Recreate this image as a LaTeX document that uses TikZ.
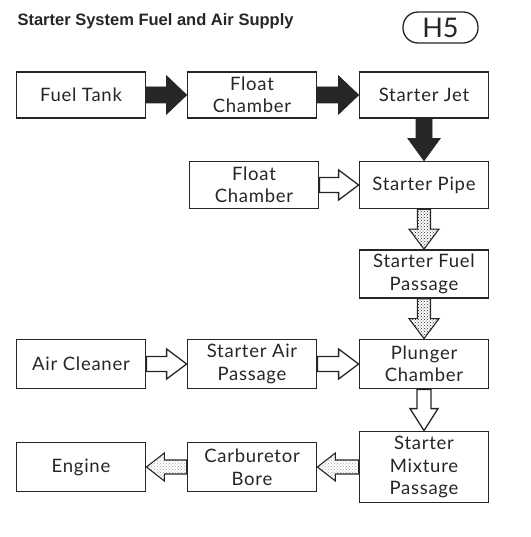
\documentclass[tikz,border=0pt]{standalone}
\usepackage{fontspec}
\setmainfont{Lato}[LetterSpace=4]
\newfontfamily\titlefont{Liberation Sans}
\newfontfamily\hfont{Lato}
\usetikzlibrary{calc,patterns}
\newcommand\fatarrow[6]{%
  \coordinate (fa-h) at ($(#3)!#6!(#2)$);
  \draw[#1] ($(#2)!#4!90:(#3)$) -- ($(fa-h)!#4!-90:(#2)$) -- ($(fa-h)!#5!-90:(#2)$)
    -- (#3) -- ($(fa-h)!#5!90:(#2)$) -- ($(fa-h)!#4!90:(#2)$) -- ($(#2)!#4!-90:(#3)$) -- cycle;}
\tikzset{
  box/.style={draw=black!85, line width=1.8pt, fill=white, minimum width=129pt, align=center,
    font=\fontsize{18.5}{22.5}\selectfont, text=black!85, inner sep=0pt},
  solidarr/.style={fill=black!85, draw=black!85, line width=0.8pt, line join=miter},
  openarr/.style={fill=white, draw=black!85, line width=1.3pt, line join=miter},
  dotarr/.style={pattern=crosshatch dots, pattern color=black!85, draw=black!85, line width=1.1pt, line join=miter},
  lightarr/.style={pattern=crosshatch dots, pattern color=black!35, draw=black!85, line width=1.1pt, line join=miter},
}
\begin{document}
\begin{tikzpicture}[x=1pt,y=-1pt]
\useasboundingbox[fill=white] (0,0) rectangle (530,537);
\node[anchor=west, font=\titlefont\bfseries\fontsize{16.5}{19}\selectfont, text=black!85] (title) at (14,21) {Starter System Fuel and Air Supply};
\node[draw=black!85, line width=1.3pt, rounded corners=15pt, minimum width=75pt, minimum height=31pt, inner sep=0pt,
  font=\hfont\fontsize{27}{30}\selectfont, text=black!85] (h5) at (440.5,27.5) {H5};

\node[box, minimum height=46pt] (ft)  at (81,95)  {Fuel Tank};
\node[box, minimum height=46pt] (fc1) at (252,95) {Float\\Chamber};
\node[box, minimum height=46pt] (sj)  at (424,95) {Starter Jet};
\node[box, minimum height=47pt] (fc2) at (254,185) {Float\\Chamber};
\node[box, minimum height=47pt] (sp)  at (424,185) {Starter Pipe};
\node[box, minimum height=48pt] (sfp) at (424,274) {Starter Fuel\\Passage};
\node[box, minimum height=49pt] (ac)  at (81,364) {Air Cleaner};
\node[box, minimum height=49pt] (sap) at (252,364) {Starter Air\\Passage};
\node[box, minimum height=49pt] (pc)  at (424,364) {Plunger\\Chamber};
\node[box, minimum height=71pt] (smp) at (424,467) {Starter\\Mixture\\Passage};
\node[box, minimum height=49pt] (cb)  at (252,467) {Carburetor\\Bore};
\node[box, minimum height=49pt] (en)  at (81,467) {Engine};

\fatarrow{solidarr}{ft.east}{fc1.west}{8pt}{19pt}{20pt}
\fatarrow{solidarr}{fc1.east}{sj.west}{8pt}{19pt}{20pt}
\fatarrow{solidarr}{sj.south}{sp.north}{8pt}{16pt}{22pt}
\fatarrow{openarr}{fc2.east}{sp.west}{7.5pt}{15pt}{20pt}
\fatarrow{dotarr}{sp.south}{sfp.north}{6.5pt}{15pt}{20pt}
\fatarrow{dotarr}{sfp.south}{pc.north}{6.5pt}{15pt}{20pt}
\fatarrow{openarr}{ac.east}{sap.west}{7.5pt}{15pt}{20pt}
\fatarrow{openarr}{sap.east}{pc.west}{7.5pt}{15pt}{20pt}
\fatarrow{openarr}{pc.south}{smp.north}{7pt}{14pt}{22pt}
\fatarrow{lightarr}{smp.west}{cb.east}{7pt}{14pt}{18pt}
\fatarrow{lightarr}{cb.west}{en.east}{7pt}{14pt}{18pt}
\end{tikzpicture}
\end{document}
